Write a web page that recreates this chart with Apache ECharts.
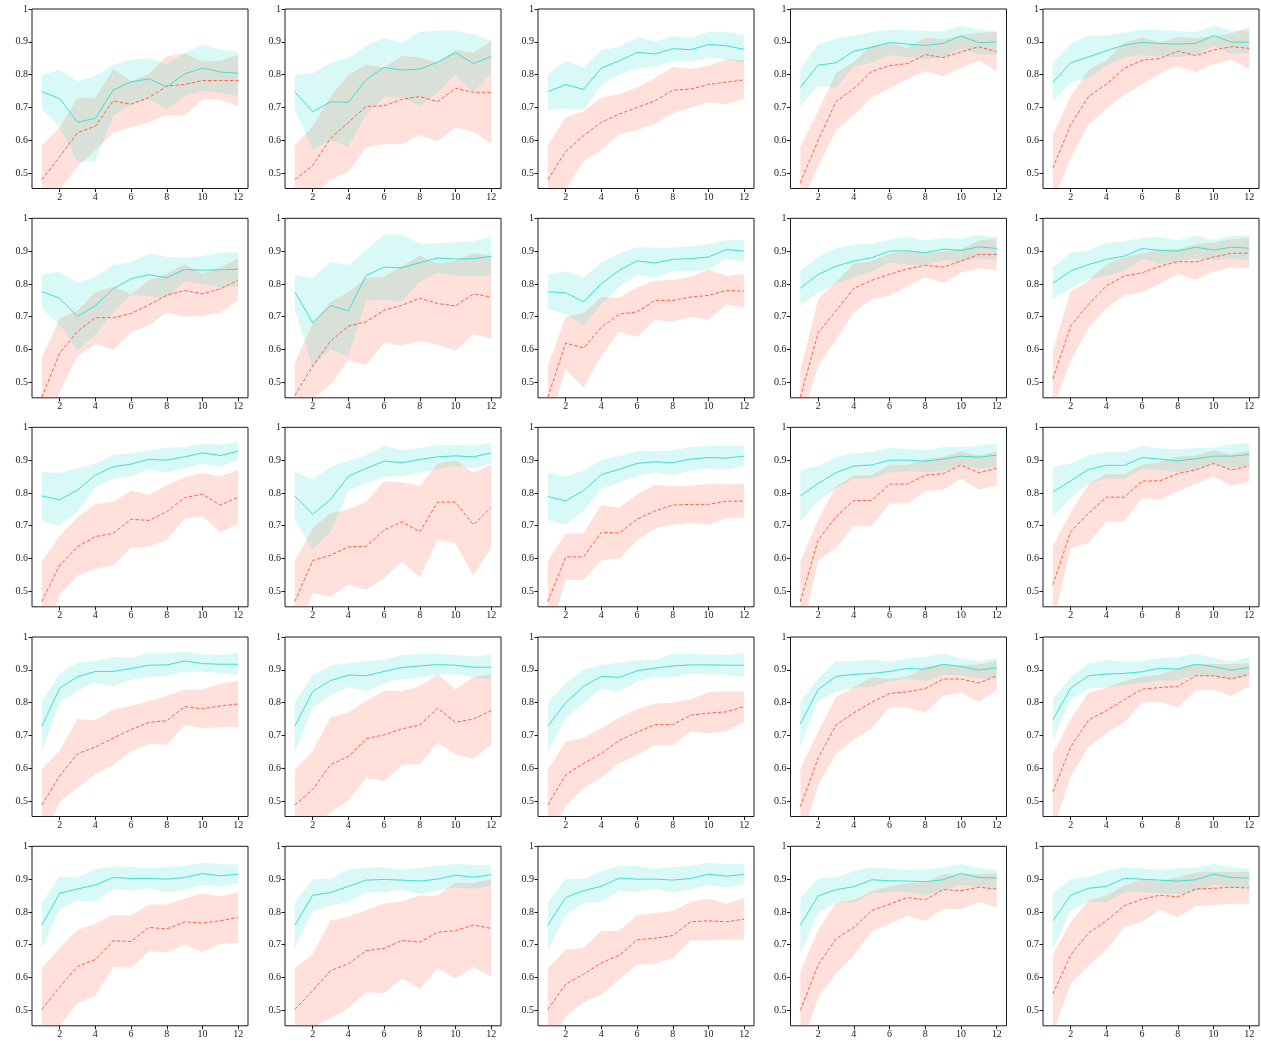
<!DOCTYPE html>
<html><head><meta charset="utf-8">
<script src="https://cdn.jsdelivr.net/npm/echarts@6/dist/echarts.min.js"></script>
<style>html,body{margin:0;padding:0;background:#fff}#c{width:1261px;height:1049px}</style>
</head><body><div id="c"></div><script>
const xValues = [1,2,3,4,5,6,7,8,9,10,11,12];
const xTicks = [2,4,6,8,10,12];
const yTicks = [0.5,0.6,0.7,0.8,0.9,1];

// Row 1
const r1c1_cyan   = [0.748,0.727,0.655,0.667,0.753,0.778,0.787,0.763,0.802,0.820,0.808,0.804];
const r1c1_cyanHi = [0.800,0.814,0.780,0.796,0.830,0.845,0.850,0.832,0.866,0.890,0.876,0.870];
const r1c1_cyanLo = [0.695,0.640,0.535,0.535,0.675,0.710,0.725,0.695,0.735,0.750,0.745,0.735];
const r1c1_red    = [0.480,0.550,0.623,0.643,0.720,0.710,0.730,0.765,0.770,0.782,0.782,0.782];
const r1c1_redHi  = [0.584,0.640,0.730,0.727,0.817,0.780,0.803,0.855,0.865,0.840,0.842,0.860];
const r1c1_redLo  = [0.400,0.450,0.520,0.570,0.623,0.640,0.655,0.676,0.675,0.725,0.724,0.703];

const r1c2_cyan   = [0.748,0.687,0.717,0.716,0.785,0.822,0.814,0.817,0.838,0.867,0.834,0.855];
const r1c2_cyanHi = [0.800,0.804,0.837,0.850,0.888,0.912,0.897,0.931,0.934,0.934,0.923,0.903];
const r1c2_cyanLo = [0.695,0.570,0.600,0.580,0.680,0.730,0.730,0.705,0.745,0.800,0.745,0.805];
const r1c2_red    = [0.480,0.523,0.606,0.654,0.703,0.705,0.725,0.733,0.718,0.758,0.746,0.746];
const r1c2_redHi  = [0.584,0.642,0.733,0.800,0.830,0.822,0.857,0.852,0.837,0.875,0.866,0.903];
const r1c2_redLo  = [0.400,0.430,0.480,0.504,0.578,0.588,0.588,0.616,0.596,0.640,0.626,0.589];

const r1c3_cyan   = [0.748,0.770,0.755,0.820,0.842,0.868,0.863,0.879,0.876,0.892,0.888,0.877];
const r1c3_cyanHi = [0.800,0.842,0.822,0.874,0.885,0.914,0.901,0.917,0.912,0.931,0.931,0.920];
const r1c3_cyanLo = [0.692,0.697,0.692,0.768,0.800,0.819,0.824,0.840,0.840,0.852,0.847,0.836];
const r1c3_red    = [0.480,0.566,0.614,0.655,0.680,0.700,0.720,0.753,0.756,0.770,0.777,0.784];
const r1c3_redHi  = [0.584,0.670,0.688,0.730,0.741,0.761,0.789,0.824,0.817,0.826,0.847,0.844];
const r1c3_redLo  = [0.400,0.450,0.537,0.570,0.618,0.631,0.650,0.682,0.700,0.716,0.710,0.728];

const r1c4_cyan   = [0.761,0.829,0.836,0.872,0.883,0.898,0.893,0.889,0.895,0.918,0.897,0.900];
const r1c4_cyanHi = [0.819,0.892,0.910,0.920,0.930,0.937,0.935,0.933,0.932,0.949,0.937,0.932];
const r1c4_cyanLo = [0.703,0.766,0.761,0.824,0.837,0.860,0.854,0.846,0.852,0.880,0.861,0.861];
const r1c4_red    = [0.470,0.600,0.718,0.758,0.810,0.827,0.834,0.861,0.852,0.870,0.885,0.870];
const r1c4_redHi  = [0.580,0.690,0.805,0.839,0.889,0.896,0.881,0.912,0.908,0.920,0.928,0.930];
const r1c4_redLo  = [0.400,0.520,0.631,0.677,0.731,0.758,0.787,0.810,0.796,0.820,0.842,0.810];

const r1c5_cyan   = [0.776,0.836,0.854,0.873,0.890,0.898,0.895,0.893,0.895,0.919,0.899,0.899];
const r1c5_cyanHi = [0.834,0.895,0.919,0.919,0.928,0.937,0.935,0.933,0.930,0.950,0.935,0.932];
const r1c5_cyanLo = [0.718,0.777,0.789,0.827,0.852,0.859,0.855,0.853,0.860,0.888,0.863,0.866];
const r1c5_red    = [0.515,0.647,0.733,0.771,0.819,0.844,0.849,0.872,0.858,0.875,0.885,0.880];
const r1c5_redHi  = [0.616,0.733,0.814,0.844,0.897,0.913,0.897,0.915,0.912,0.917,0.925,0.944];
const r1c5_redLo  = [0.414,0.545,0.647,0.697,0.738,0.771,0.802,0.827,0.807,0.832,0.846,0.817];

// Row 2
const r2c1_cyan   = [0.777,0.756,0.701,0.734,0.785,0.816,0.828,0.819,0.844,0.842,0.843,0.845];
const r2c1_cyanHi = [0.829,0.837,0.804,0.822,0.857,0.866,0.892,0.883,0.880,0.885,0.896,0.896];
const r2c1_cyanLo = [0.725,0.675,0.598,0.646,0.713,0.766,0.764,0.755,0.808,0.799,0.790,0.794];
const r2c1_red    = [0.455,0.590,0.655,0.697,0.697,0.710,0.736,0.766,0.780,0.770,0.785,0.811];
const r2c1_redHi  = [0.576,0.694,0.718,0.775,0.792,0.768,0.811,0.831,0.860,0.832,0.850,0.877];
const r2c1_redLo  = [0.360,0.470,0.580,0.618,0.599,0.652,0.675,0.713,0.700,0.702,0.713,0.751];

const r2c2_cyan   = [0.776,0.682,0.734,0.718,0.826,0.851,0.849,0.865,0.879,0.876,0.877,0.884];
const r2c2_cyanHi = [0.829,0.817,0.868,0.857,0.903,0.951,0.951,0.923,0.923,0.927,0.930,0.945];
const r2c2_cyanLo = [0.723,0.547,0.600,0.579,0.749,0.751,0.747,0.807,0.835,0.825,0.824,0.823];
const r2c2_red    = [0.460,0.550,0.626,0.671,0.685,0.720,0.735,0.757,0.740,0.733,0.770,0.760];
const r2c2_redHi  = [0.560,0.680,0.745,0.775,0.818,0.822,0.855,0.886,0.862,0.870,0.894,0.886];
const r2c2_redLo  = [0.360,0.450,0.493,0.568,0.553,0.620,0.612,0.626,0.615,0.597,0.647,0.633];

const r2c3_cyan   = [0.776,0.773,0.746,0.801,0.842,0.870,0.864,0.875,0.877,0.882,0.905,0.900];
const r2c3_cyanHi = [0.828,0.838,0.819,0.865,0.893,0.912,0.910,0.910,0.915,0.922,0.933,0.933];
const r2c3_cyanLo = [0.724,0.708,0.673,0.737,0.791,0.828,0.818,0.840,0.839,0.842,0.877,0.867];
const r2c3_red    = [0.455,0.620,0.605,0.668,0.708,0.715,0.750,0.750,0.760,0.765,0.780,0.778];
const r2c3_redHi  = [0.550,0.700,0.710,0.760,0.758,0.790,0.810,0.812,0.822,0.843,0.825,0.830];
const r2c3_redLo  = [0.360,0.540,0.485,0.580,0.655,0.638,0.690,0.685,0.700,0.690,0.738,0.728];

const r2c4_cyan   = [0.787,0.829,0.854,0.870,0.880,0.900,0.901,0.895,0.906,0.902,0.913,0.908];
const r2c4_cyanHi = [0.841,0.883,0.908,0.920,0.922,0.935,0.943,0.932,0.940,0.938,0.949,0.943];
const r2c4_cyanLo = [0.733,0.775,0.800,0.820,0.838,0.865,0.859,0.858,0.872,0.866,0.877,0.873];
const r2c4_red    = [0.455,0.652,0.718,0.787,0.811,0.829,0.846,0.857,0.851,0.870,0.890,0.890];
const r2c4_redHi  = [0.535,0.754,0.806,0.862,0.869,0.893,0.900,0.894,0.899,0.905,0.932,0.938];
const r2c4_redLo  = [0.370,0.550,0.630,0.712,0.753,0.765,0.792,0.820,0.803,0.835,0.848,0.842];

const r2c5_cyan   = [0.802,0.840,0.859,0.875,0.885,0.908,0.902,0.900,0.912,0.903,0.912,0.909];
const r2c5_cyanHi = [0.849,0.895,0.903,0.925,0.930,0.940,0.943,0.932,0.946,0.935,0.946,0.946];
const r2c5_cyanLo = [0.755,0.785,0.815,0.825,0.840,0.876,0.861,0.868,0.878,0.871,0.878,0.872];
const r2c5_red    = [0.510,0.672,0.738,0.794,0.824,0.834,0.854,0.868,0.867,0.882,0.893,0.894];
const r2c5_redHi  = [0.597,0.777,0.810,0.861,0.882,0.893,0.906,0.906,0.920,0.926,0.936,0.940];
const r2c5_redLo  = [0.420,0.565,0.665,0.727,0.765,0.775,0.800,0.830,0.813,0.838,0.850,0.848];

// Row 3
const r3c1_cyan   = [0.791,0.779,0.809,0.854,0.880,0.888,0.902,0.900,0.910,0.922,0.914,0.927];
const r3c1_cyanHi = [0.865,0.860,0.875,0.890,0.915,0.922,0.930,0.938,0.940,0.950,0.947,0.956];
const r3c1_cyanLo = [0.716,0.700,0.743,0.817,0.844,0.851,0.872,0.862,0.875,0.890,0.880,0.900];
const r3c1_red    = [0.469,0.580,0.636,0.667,0.677,0.720,0.716,0.743,0.786,0.796,0.763,0.787];
const r3c1_redHi  = [0.590,0.669,0.726,0.766,0.773,0.807,0.794,0.824,0.847,0.861,0.849,0.870];
const r3c1_redLo  = [0.350,0.490,0.548,0.568,0.580,0.633,0.637,0.657,0.722,0.728,0.680,0.705];

const r3c2_cyan   = [0.791,0.735,0.780,0.851,0.875,0.897,0.892,0.902,0.910,0.913,0.910,0.922];
const r3c2_cyanHi = [0.865,0.841,0.880,0.898,0.915,0.944,0.930,0.937,0.946,0.946,0.944,0.954];
const r3c2_cyanLo = [0.716,0.628,0.682,0.807,0.829,0.849,0.851,0.862,0.872,0.882,0.875,0.890];
const r3c2_red    = [0.469,0.594,0.610,0.636,0.637,0.687,0.712,0.682,0.772,0.772,0.703,0.756];
const r3c2_redHi  = [0.590,0.692,0.738,0.750,0.772,0.836,0.832,0.822,0.890,0.900,0.862,0.887];
const r3c2_redLo  = [0.350,0.495,0.484,0.520,0.505,0.540,0.592,0.542,0.657,0.647,0.548,0.633];

const r3c3_cyan   = [0.789,0.776,0.807,0.856,0.872,0.890,0.895,0.892,0.903,0.908,0.906,0.912];
const r3c3_cyanHi = [0.862,0.850,0.868,0.900,0.912,0.928,0.927,0.930,0.940,0.943,0.944,0.943];
const r3c3_cyanLo = [0.717,0.704,0.745,0.812,0.832,0.850,0.862,0.855,0.868,0.875,0.870,0.882];
const r3c3_red    = [0.469,0.605,0.605,0.680,0.678,0.720,0.745,0.763,0.765,0.765,0.775,0.775];
const r3c3_redHi  = [0.595,0.675,0.677,0.763,0.755,0.795,0.825,0.820,0.822,0.827,0.828,0.827];
const r3c3_redLo  = [0.350,0.535,0.535,0.595,0.600,0.655,0.692,0.703,0.708,0.703,0.723,0.725];

const r3c4_cyan   = [0.791,0.829,0.862,0.882,0.885,0.900,0.900,0.897,0.903,0.912,0.909,0.915];
const r3c4_cyanHi = [0.870,0.882,0.910,0.920,0.925,0.938,0.934,0.930,0.940,0.940,0.944,0.951];
const r3c4_cyanLo = [0.712,0.776,0.814,0.844,0.845,0.862,0.866,0.864,0.866,0.884,0.874,0.879];
const r3c4_red    = [0.469,0.657,0.728,0.777,0.777,0.827,0.827,0.854,0.859,0.885,0.862,0.875];
const r3c4_redHi  = [0.590,0.720,0.820,0.852,0.854,0.887,0.886,0.903,0.910,0.927,0.914,0.927];
const r3c4_redLo  = [0.350,0.595,0.633,0.700,0.700,0.767,0.768,0.805,0.810,0.843,0.810,0.823];

const r3c5_cyan   = [0.803,0.837,0.872,0.884,0.884,0.908,0.903,0.898,0.904,0.912,0.912,0.917];
const r3c5_cyanHi = [0.878,0.890,0.915,0.925,0.925,0.943,0.935,0.933,0.937,0.938,0.948,0.953];
const r3c5_cyanLo = [0.728,0.784,0.829,0.843,0.843,0.873,0.871,0.863,0.871,0.886,0.876,0.881];
const r3c5_red    = [0.520,0.682,0.738,0.787,0.787,0.836,0.837,0.859,0.870,0.890,0.870,0.882];
const r3c5_redHi  = [0.640,0.740,0.827,0.858,0.858,0.887,0.894,0.911,0.913,0.930,0.918,0.929];
const r3c5_redLo  = [0.400,0.632,0.648,0.713,0.713,0.785,0.780,0.805,0.827,0.850,0.822,0.835];

// Row 4
const r4c1_cyan   = [0.728,0.844,0.879,0.895,0.895,0.904,0.914,0.915,0.927,0.919,0.917,0.917];
const r4c1_cyanHi = [0.801,0.889,0.922,0.927,0.939,0.937,0.950,0.950,0.957,0.947,0.945,0.952];
const r4c1_cyanLo = [0.650,0.800,0.838,0.860,0.850,0.870,0.879,0.880,0.895,0.894,0.890,0.885];
const r4c1_red    = [0.488,0.577,0.644,0.665,0.692,0.718,0.740,0.745,0.788,0.781,0.790,0.796];
const r4c1_redHi  = [0.596,0.655,0.750,0.746,0.779,0.790,0.805,0.820,0.840,0.840,0.858,0.866];
const r4c1_redLo  = [0.380,0.497,0.540,0.582,0.610,0.652,0.675,0.672,0.732,0.722,0.725,0.725];

const r4c2_cyan   = [0.728,0.834,0.867,0.884,0.882,0.895,0.907,0.912,0.916,0.914,0.908,0.908];
const r4c2_cyanHi = [0.801,0.885,0.913,0.920,0.927,0.929,0.945,0.948,0.948,0.945,0.940,0.947];
const r4c2_cyanLo = [0.650,0.785,0.822,0.848,0.835,0.860,0.872,0.876,0.885,0.886,0.878,0.870];
const r4c2_red    = [0.488,0.535,0.611,0.636,0.690,0.702,0.720,0.732,0.783,0.740,0.750,0.776];
const r4c2_redHi  = [0.596,0.652,0.755,0.770,0.805,0.837,0.835,0.850,0.886,0.840,0.878,0.886];
const r4c2_redLo  = [0.380,0.420,0.466,0.503,0.570,0.561,0.610,0.613,0.678,0.643,0.628,0.672];

const r4c3_cyan   = [0.728,0.800,0.850,0.880,0.877,0.897,0.905,0.912,0.915,0.915,0.914,0.914];
const r4c3_cyanHi = [0.801,0.858,0.900,0.915,0.922,0.929,0.930,0.948,0.948,0.947,0.945,0.952];
const r4c3_cyanLo = [0.650,0.750,0.800,0.843,0.832,0.865,0.878,0.877,0.888,0.887,0.885,0.878];
const r4c3_red    = [0.488,0.580,0.615,0.645,0.685,0.710,0.733,0.733,0.762,0.768,0.772,0.788];
const r4c3_redHi  = [0.596,0.680,0.692,0.722,0.755,0.780,0.797,0.800,0.810,0.832,0.834,0.834];
const r4c3_redLo  = [0.380,0.485,0.540,0.572,0.615,0.640,0.670,0.670,0.712,0.707,0.713,0.741];

const r4c4_cyan   = [0.735,0.840,0.880,0.886,0.889,0.895,0.904,0.902,0.917,0.910,0.899,0.906];
const r4c4_cyanHi = [0.801,0.874,0.927,0.927,0.930,0.925,0.935,0.939,0.950,0.935,0.925,0.937];
const r4c4_cyanLo = [0.665,0.805,0.833,0.845,0.848,0.865,0.873,0.865,0.884,0.885,0.873,0.875];
const r4c4_red    = [0.483,0.631,0.732,0.769,0.801,0.828,0.833,0.843,0.872,0.872,0.860,0.882];
const r4c4_redHi  = [0.598,0.712,0.817,0.848,0.877,0.872,0.880,0.910,0.915,0.914,0.916,0.928];
const r4c4_redLo  = [0.370,0.548,0.645,0.688,0.723,0.785,0.785,0.770,0.822,0.830,0.803,0.838];

const r4c5_cyan   = [0.748,0.844,0.882,0.887,0.889,0.894,0.905,0.902,0.917,0.910,0.899,0.907];
const r4c5_cyanHi = [0.811,0.877,0.919,0.929,0.925,0.925,0.935,0.939,0.950,0.935,0.925,0.940];
const r4c5_cyanLo = [0.685,0.809,0.843,0.846,0.852,0.860,0.867,0.869,0.882,0.877,0.872,0.877];
const r4c5_red    = [0.528,0.665,0.747,0.776,0.809,0.841,0.846,0.849,0.882,0.882,0.872,0.887];
const r4c5_redHi  = [0.645,0.750,0.830,0.846,0.865,0.880,0.885,0.905,0.918,0.918,0.918,0.920];
const r4c5_redLo  = [0.410,0.575,0.665,0.707,0.740,0.800,0.803,0.785,0.837,0.840,0.820,0.850];

// Row 5
const r5c1_cyan   = [0.760,0.857,0.870,0.882,0.905,0.902,0.902,0.900,0.905,0.917,0.910,0.915];
const r5c1_cyanHi = [0.829,0.908,0.905,0.930,0.938,0.938,0.932,0.937,0.940,0.950,0.946,0.944];
const r5c1_cyanLo = [0.690,0.807,0.834,0.832,0.870,0.865,0.872,0.860,0.868,0.883,0.877,0.887];
const r5c1_red    = [0.503,0.571,0.634,0.655,0.712,0.710,0.753,0.748,0.770,0.766,0.773,0.783];
const r5c1_redHi  = [0.628,0.690,0.745,0.765,0.790,0.790,0.823,0.823,0.840,0.857,0.848,0.860];
const r5c1_redLo  = [0.380,0.455,0.522,0.545,0.632,0.630,0.680,0.677,0.700,0.678,0.703,0.705];

const r5c2_cyan   = [0.760,0.851,0.859,0.878,0.897,0.899,0.897,0.894,0.900,0.912,0.906,0.913];
const r5c2_cyanHi = [0.829,0.900,0.900,0.929,0.935,0.937,0.928,0.935,0.940,0.946,0.943,0.943];
const r5c2_cyanLo = [0.690,0.802,0.820,0.830,0.859,0.860,0.868,0.855,0.865,0.875,0.870,0.880];
const r5c2_red    = [0.503,0.560,0.621,0.642,0.682,0.689,0.713,0.708,0.738,0.743,0.760,0.750];
const r5c2_redHi  = [0.628,0.672,0.773,0.785,0.806,0.825,0.832,0.850,0.850,0.890,0.888,0.900];
const r5c2_redLo  = [0.380,0.450,0.475,0.508,0.555,0.552,0.597,0.565,0.628,0.597,0.632,0.603];

const r5c3_cyan   = [0.760,0.844,0.865,0.878,0.903,0.900,0.900,0.897,0.902,0.915,0.909,0.914];
const r5c3_cyanHi = [0.829,0.900,0.900,0.925,0.940,0.940,0.930,0.937,0.940,0.950,0.946,0.945];
const r5c3_cyanLo = [0.685,0.790,0.827,0.830,0.865,0.860,0.870,0.860,0.868,0.882,0.875,0.885];
const r5c3_red    = [0.503,0.580,0.610,0.645,0.668,0.715,0.720,0.728,0.770,0.773,0.770,0.778];
const r5c3_redHi  = [0.628,0.685,0.690,0.742,0.742,0.790,0.797,0.803,0.830,0.840,0.825,0.843];
const r5c3_redLo  = [0.380,0.480,0.525,0.548,0.595,0.640,0.643,0.658,0.713,0.713,0.715,0.715];

const r5c4_cyan   = [0.760,0.849,0.868,0.877,0.898,0.895,0.894,0.892,0.898,0.917,0.905,0.903];
const r5c4_cyanHi = [0.844,0.902,0.905,0.925,0.935,0.932,0.928,0.930,0.935,0.946,0.935,0.928];
const r5c4_cyanLo = [0.672,0.797,0.829,0.829,0.857,0.860,0.860,0.849,0.865,0.882,0.877,0.875];
const r5c4_red    = [0.500,0.639,0.718,0.753,0.804,0.824,0.844,0.837,0.868,0.865,0.875,0.870];
const r5c4_redHi  = [0.620,0.745,0.828,0.836,0.864,0.878,0.888,0.890,0.915,0.915,0.915,0.918];
const r5c4_redLo  = [0.380,0.540,0.612,0.668,0.740,0.763,0.788,0.772,0.810,0.808,0.830,0.813];

const r5c5_cyan   = [0.773,0.851,0.872,0.878,0.902,0.900,0.897,0.894,0.898,0.915,0.905,0.903];
const r5c5_cyanHi = [0.857,0.900,0.907,0.925,0.937,0.932,0.928,0.933,0.935,0.946,0.937,0.930];
const r5c5_cyanLo = [0.684,0.804,0.832,0.829,0.860,0.860,0.857,0.854,0.862,0.882,0.875,0.875];
const r5c5_red    = [0.550,0.669,0.736,0.773,0.819,0.839,0.851,0.846,0.870,0.872,0.875,0.873];
const r5c5_redHi  = [0.670,0.770,0.835,0.850,0.880,0.900,0.895,0.905,0.920,0.922,0.922,0.922];
const r5c5_redLo  = [0.430,0.582,0.637,0.685,0.753,0.770,0.806,0.783,0.818,0.820,0.825,0.825];

const P = (cm, cl, cu, rm, rl, ru) => ({cm, cl, cu, rm, rl, ru});
const panels = [
  P(r1c1_cyan,r1c1_cyanLo,r1c1_cyanHi,r1c1_red,r1c1_redLo,r1c1_redHi),
  P(r1c2_cyan,r1c2_cyanLo,r1c2_cyanHi,r1c2_red,r1c2_redLo,r1c2_redHi),
  P(r1c3_cyan,r1c3_cyanLo,r1c3_cyanHi,r1c3_red,r1c3_redLo,r1c3_redHi),
  P(r1c4_cyan,r1c4_cyanLo,r1c4_cyanHi,r1c4_red,r1c4_redLo,r1c4_redHi),
  P(r1c5_cyan,r1c5_cyanLo,r1c5_cyanHi,r1c5_red,r1c5_redLo,r1c5_redHi),
  P(r2c1_cyan,r2c1_cyanLo,r2c1_cyanHi,r2c1_red,r2c1_redLo,r2c1_redHi),
  P(r2c2_cyan,r2c2_cyanLo,r2c2_cyanHi,r2c2_red,r2c2_redLo,r2c2_redHi),
  P(r2c3_cyan,r2c3_cyanLo,r2c3_cyanHi,r2c3_red,r2c3_redLo,r2c3_redHi),
  P(r2c4_cyan,r2c4_cyanLo,r2c4_cyanHi,r2c4_red,r2c4_redLo,r2c4_redHi),
  P(r2c5_cyan,r2c5_cyanLo,r2c5_cyanHi,r2c5_red,r2c5_redLo,r2c5_redHi),
  P(r3c1_cyan,r3c1_cyanLo,r3c1_cyanHi,r3c1_red,r3c1_redLo,r3c1_redHi),
  P(r3c2_cyan,r3c2_cyanLo,r3c2_cyanHi,r3c2_red,r3c2_redLo,r3c2_redHi),
  P(r3c3_cyan,r3c3_cyanLo,r3c3_cyanHi,r3c3_red,r3c3_redLo,r3c3_redHi),
  P(r3c4_cyan,r3c4_cyanLo,r3c4_cyanHi,r3c4_red,r3c4_redLo,r3c4_redHi),
  P(r3c5_cyan,r3c5_cyanLo,r3c5_cyanHi,r3c5_red,r3c5_redLo,r3c5_redHi),
  P(r4c1_cyan,r4c1_cyanLo,r4c1_cyanHi,r4c1_red,r4c1_redLo,r4c1_redHi),
  P(r4c2_cyan,r4c2_cyanLo,r4c2_cyanHi,r4c2_red,r4c2_redLo,r4c2_redHi),
  P(r4c3_cyan,r4c3_cyanLo,r4c3_cyanHi,r4c3_red,r4c3_redLo,r4c3_redHi),
  P(r4c4_cyan,r4c4_cyanLo,r4c4_cyanHi,r4c4_red,r4c4_redLo,r4c4_redHi),
  P(r4c5_cyan,r4c5_cyanLo,r4c5_cyanHi,r4c5_red,r4c5_redLo,r4c5_redHi),
  P(r5c1_cyan,r5c1_cyanLo,r5c1_cyanHi,r5c1_red,r5c1_redLo,r5c1_redHi),
  P(r5c2_cyan,r5c2_cyanLo,r5c2_cyanHi,r5c2_red,r5c2_redLo,r5c2_redHi),
  P(r5c3_cyan,r5c3_cyanLo,r5c3_cyanHi,r5c3_red,r5c3_redLo,r5c3_redHi),
  P(r5c4_cyan,r5c4_cyanLo,r5c4_cyanHi,r5c4_red,r5c4_redLo,r5c4_redHi),
  P(r5c5_cyan,r5c5_cyanLo,r5c5_cyanHi,r5c5_red,r5c5_redLo,r5c5_redHi)
];

const colLeft = [32, 285, 538, 790.5, 1043];
const rowTop = [9, 218.3, 427.3, 637, 846.3];
const W = 216, H = 179.5;
const CYAN = '#40E0D0', RED = '#FF6347';
const FONT = 'Liberation Serif';

const pairs = arr => xValues.map((x, i) => [x, arr[i]]);

// band drawn as one polygon, all vertices placed through the axis scales (api.coord)
function bandSeries(i, lo, hi, color) {
  return {
    type: 'custom', xAxisIndex: i, yAxisIndex: i, silent: true, animation: false, clip: true,
    data: xValues.map((x, k) => [x, lo[k], hi[k]]),
    encode: {x: 0, y: [1, 2]},
    renderItem: (params, api) => {
      if (params.dataIndex !== 0) return null;
      const top = xValues.map((x, k) => api.coord([x, hi[k]]));
      const bot = xValues.map((x, k) => api.coord([x, lo[k]])).reverse();
      const cs = params.coordSys;
      return {
        type: 'polygon',
        shape: {points: top.concat(bot)},
        style: {fill: color, opacity: 0.2},
        clipPath: {type: 'rect', shape: {x: cs.x, y: cs.y, width: cs.width, height: cs.height}}
      };
    }
  };
}

const grid = [], xAxis = [], yAxis = [], series = [];
panels.forEach((p, i) => {
  const r = Math.floor(i / 5), c = i % 5;
  grid.push({left: colLeft[c], top: rowTop[r], width: W, height: H, show: true,
    borderColor: '#1a1a1a', borderWidth: 1, backgroundColor: 'transparent'});
  xAxis.push({gridIndex: i, type: 'value', min: 0.45, max: 12.55,
    axisLine: {show: false}, splitLine: {show: false},
    axisTick: {show: true, customValues: xTicks, length: 3.5, lineStyle: {color: '#1a1a1a', width: 1}},
    axisLabel: {customValues: xTicks, margin: 4, fontFamily: FONT, fontSize: 10, color: '#1a1a1a'}});
  yAxis.push({gridIndex: i, type: 'value', min: 0.453, max: 1,
    axisLine: {show: false}, splitLine: {show: false},
    axisTick: {show: true, customValues: yTicks, length: 3.5, lineStyle: {color: '#1a1a1a', width: 1}},
    axisLabel: {customValues: yTicks, margin: 4, fontFamily: FONT, fontSize: 10, color: '#1a1a1a',
      formatter: v => (Math.abs(v - 1) < 1e-9 ? '1' : v.toFixed(1))}});
  series.push(bandSeries(i, p.rl, p.ru, RED));
  series.push(bandSeries(i, p.cl, p.cu, CYAN));
  const base = {xAxisIndex: i, yAxisIndex: i, type: 'line', symbol: 'none', silent: true,
    animation: false, clip: true};
  series.push(Object.assign({}, base, {data: pairs(p.rm),
    lineStyle: {color: RED, width: 1, type: [3.5, 2]}}));
  series.push(Object.assign({}, base, {data: pairs(p.cm),
    lineStyle: {color: CYAN, width: 1, type: 'solid'}}));
});

const chart = echarts.init(document.getElementById('c'), null, {renderer: 'canvas'});
chart.setOption({animation: false, backgroundColor: '#fff', grid, xAxis, yAxis, series});
</script></body></html>
